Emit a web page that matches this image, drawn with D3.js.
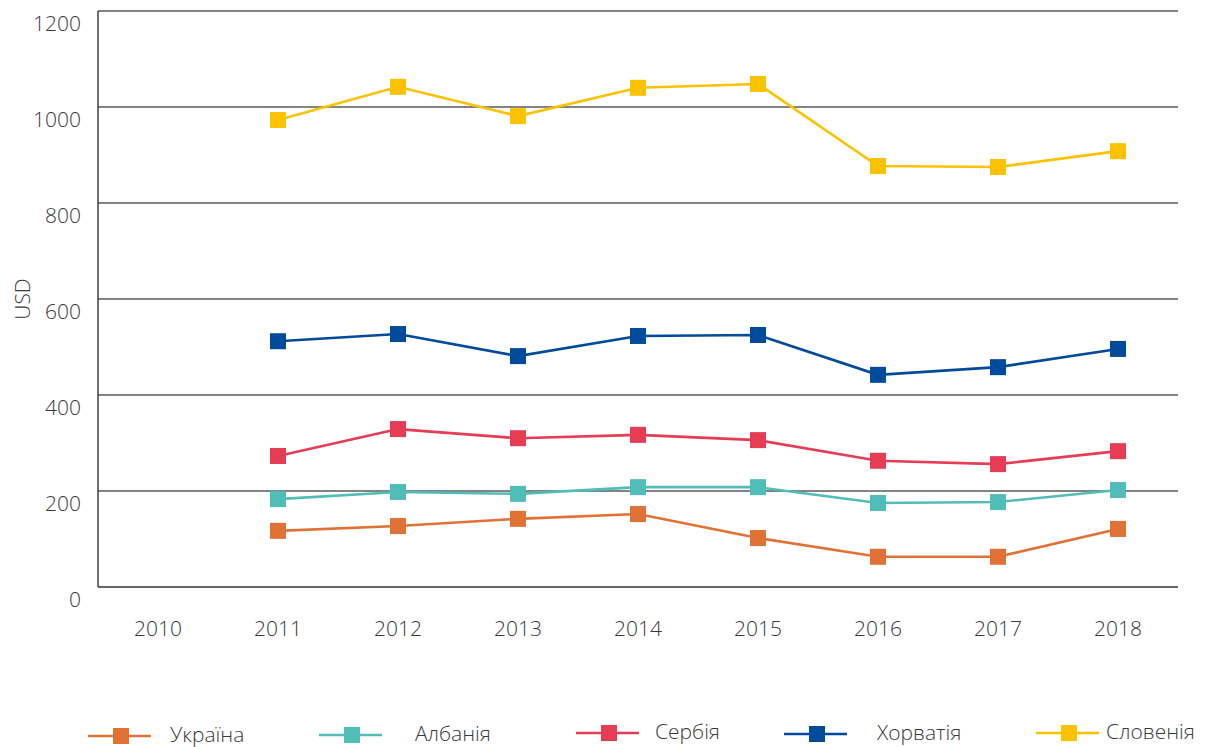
<!DOCTYPE html>
<html>
<head>
<meta charset="utf-8">
<script src="https://cdn.jsdelivr.net/npm/d3@7"></script>
<style>
  body { margin: 0; background: #fff; }
  svg { display: block; }
  svg text { font-family: "Open Sans", sans-serif; font-weight: 300; }
</style>
</head>
<body>
<div id="chart"></div>
<script>
(function() {
    'use strict';

    // data
    const years = ['2010', '2011', '2012', '2013', '2014', '2015', '2016', '2017', '2018'];
    const yTicks = [0, 200, 400, 600, 800, 1000, 1200];
    const seriesNames = ['Україна', 'Албанія', 'Сербія', 'Хорватія', 'Словенія'];
    const seriesColors = ['#e07235', '#50bdb8', '#e63c54', '#004b9c', '#fcc200'];
    // 2010 has no values
    const ukraine  = [null, 117, 127, 142, 152, 102, 63, 63, 121];
    const albania  = [null, 183, 198, 194, 208, 208, 175, 177, 202];
    const serbia   = [null, 273, 329, 310, 317, 306, 263, 256, 283];
    const croatia  = [null, 512, 527, 481, 523, 525, 442, 458, 496];
    const slovenia = [null, 973, 1042, 981, 1040, 1048, 877, 875, 908];
    const seriesValues = [ukraine, albania, serbia, croatia, slovenia];

    const width = 1205, height = 747;
    const left = 98, right = 1178, top = 11, bottom = 587;
    const textColor = '#3a3a3a';
    const fontSize = '21px';

    const svg = d3.select('#chart').append('svg')
        .attr('width', width)
        .attr('height', height);

    const x = d3.scaleBand().domain(years).range([left, right]);
    const y = d3.scaleLinear().domain([0, 1200]).range([bottom, top]);

    // gridlines
    svg.append('g')
        .selectAll('line')
        .data(yTicks.filter(d => d > 0))
        .enter().append('line')
        .attr('x1', left).attr('x2', right)
        .attr('y1', d => y(d)).attr('y2', d => y(d))
        .attr('stroke', '#5a5a5a')
        .attr('stroke-width', 1.3);

    // y axis
    const yAxis = svg.append('g')
        .attr('transform', `translate(${left},0)`)
        .call(d3.axisLeft(y).tickValues(yTicks).tickFormat(d3.format('d')).tickSize(0).tickPadding(17));
    yAxis.select('.domain').remove();
    yAxis.selectAll('text')
        .attr('dy', '0.92em')
        .style('font-size', fontSize)
        .style('fill', textColor);

    // x axis
    const xAxis = svg.append('g')
        .attr('transform', `translate(0,${bottom})`)
        .call(d3.axisBottom(x).tickSize(0).tickPadding(34));
    xAxis.select('.domain').remove();
    xAxis.selectAll('text')
        .style('font-size', fontSize)
        .style('fill', textColor);

    // axis frame lines
    svg.append('line')
        .attr('x1', left).attr('x2', left)
        .attr('y1', top).attr('y2', bottom)
        .attr('stroke', '#222').attr('stroke-width', 1.3);
    svg.append('line')
        .attr('x1', left).attr('x2', right)
        .attr('y1', bottom).attr('y2', bottom)
        .attr('stroke', '#333').attr('stroke-width', 1.3);

    svg.append('text')
        .attr('transform', `translate(30,${(top + bottom) / 2}) rotate(-90)`)
        .attr('text-anchor', 'middle')
        .style('font-size', fontSize)
        .style('fill', textColor)
        .text('USD');

    const line = d3.line()
        .defined(d => d != null)
        .x((d, i) => x(years[i]) + x.bandwidth() / 2)
        .y(d => y(d));

    const ms = 16;

    seriesValues.forEach((vals, si) => {
        const g = svg.append('g');
        g.append('path')
            .attr('d', line(vals))
            .attr('fill', 'none')
            .attr('stroke', seriesColors[si])
            .attr('stroke-width', 2.6);
        g.selectAll('rect')
            .data(vals.map((v, i) => ({ v, i })).filter(d => d.v != null))
            .enter().append('rect')
            .attr('x', d => x(years[d.i]) + x.bandwidth() / 2 - ms / 2)
            .attr('y', d => y(d.v) - ms / 2)
            .attr('width', ms).attr('height', ms)
            .attr('fill', seriesColors[si]);
    });

    // legend
    const legendX = [88, 319, 576, 784, 1036];
    const legendY = [736, 735, 733, 734, 733];
    const legendTextX = [82, 96, 79, 93, 70];
    seriesNames.forEach((name, si) => {
        const lg = svg.append('g').attr('transform', `translate(${legendX[si]},${legendY[si]})`);
        lg.append('line')
            .attr('x1', 0).attr('x2', 63)
            .attr('stroke', seriesColors[si]).attr('stroke-width', 2.6);
        lg.append('rect')
            .attr('x', 33 - ms / 2).attr('y', -ms / 2)
            .attr('width', ms).attr('height', ms)
            .attr('fill', seriesColors[si]);
        lg.append('text')
            .attr('x', legendTextX[si])
            .attr('y', -1)
            .attr('dy', '0.35em')
            .style('font-size', fontSize)
            .style('fill', textColor)
            .text(name);
    });
})();
</script>
</body>
</html>
